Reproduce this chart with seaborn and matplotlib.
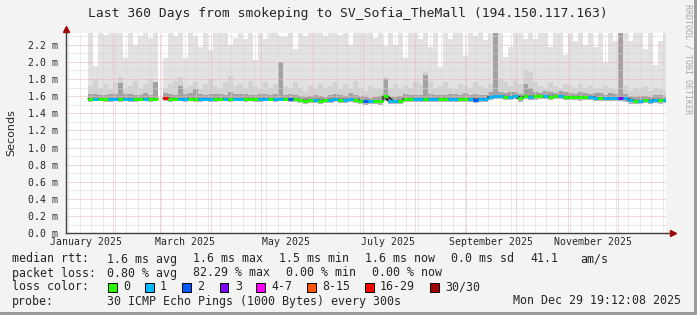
import numpy as np
import pandas as pd
import matplotlib
matplotlib.use("Agg")
import matplotlib.pyplot as plt
import matplotlib.dates as mdates
from matplotlib.patches import Rectangle
import seaborn as sns

nan = float("nan")

# ---------------- data ----------------
start_date = "2025-01-17"      # first consolidated sample
step_days = 3                  # width of one consolidated sample
end_time = "2025-12-29 19:12:08"
range_days = 360

# median RTT (ms) per sample
median_ms = [
    1.570, 1.570, 1.568, 1.570, 1.566, 1.570, 1.568, 1.572, 1.566, 1.568, 1.570, 1.572, 1.566, 1.568,
    nan,
    1.575, 1.572, 1.570, 1.568, 1.570, 1.572, 1.566, 1.570, 1.568, 1.565, 1.570, 1.572, 1.568, 1.566,
    1.570, 1.568, 1.572, 1.570, 1.566, 1.568, 1.570, 1.568, 1.565, 1.570, 1.568, 1.566, 1.562,
    1.552, 1.548, 1.550, 1.552, 1.548, 1.552,
    1.560, 1.562, 1.558, 1.560, 1.562, 1.558,
    1.542, 1.540, 1.538, 1.542, 1.540,
    1.600,
    1.545, 1.546, 1.548,
    1.566, 1.568, 1.570, 1.568, 1.566, 1.570, 1.568, 1.572, 1.568, 1.566, 1.570, 1.568, 1.570, 1.566,
    1.560, 1.568, 1.570,
    1.592, 1.596, 1.598, 1.595, 1.592, 1.598, 1.575, 1.596, 1.594, 1.598, 1.600, 1.596, 1.594, 1.598,
    1.596, 1.594,
    1.588, 1.590, 1.586, 1.588, 1.590,
    1.582, 1.580, 1.578, 1.582, 1.580, 1.578, 1.575,
    1.552, 1.548, 1.545, 1.550, 1.548, 1.558, 1.552, 1.550,
]

# packet-loss class per sample (index into loss_labels)
loss_idx = [
    0, 1, 0, 0, 1, 1, 0, 1, 1, 0, 0, 1, 0, 0,
    0,
    6, 0, 0, 1, 1, 0, 0, 1, 1, 1, 0, 0, 1, 0, 1, 1, 0, 0, 0, 1, 1, 0, 1, 1, 0, 2, 0,
    0, 0, 0, 1, 0, 0,
    1, 1, 0, 1, 1, 0,
    0, 2, 1, 0, 0,
    0,
    1, 1, 0,
    0, 0, 1, 1, 0, 1, 1, 0, 0, 1, 1, 0, 0, 1, 2, 1, 1,
    1, 1, 1, 0, 1, 1, 0, 0, 1, 0, 0, 1, 0, 0, 1, 0,
    0, 0, 0, 0, 1,
    1, 0, 1, 1, 1, 3, 1,
    1, 0, 1, 0, 1, 1, 0, 1,
]

# dense (dark) smoke height above the median (ms)
core_h = [
    0.05, 0.06, 0.05, 0.04, 0.06, 0.05, 0.18, 0.05, 0.06, 0.05, 0.04, 0.06, 0.05, 0.20,
    nan,
    0.06, 0.05, 0.04, 0.15, 0.05, 0.06, 0.12, 0.05, 0.04, 0.06, 0.05, 0.05, 0.04, 0.08,
    0.05, 0.06, 0.05, 0.04, 0.05, 0.06, 0.05, 0.04, 0.06, 0.43, 0.05, 0.06, 0.05,
    0.05, 0.04, 0.05, 0.06, 0.05, 0.04,
    0.05, 0.06, 0.05, 0.04, 0.07, 0.05,
    0.06, 0.05, 0.04, 0.05, 0.06,
    0.20,
    0.05, 0.04, 0.05,
    0.06, 0.05, 0.04, 0.05, 0.28, 0.06, 0.05, 0.04, 0.05, 0.06, 0.05, 0.04, 0.07, 0.05,
    0.06, 0.05, 0.04,
    0.06, 0.85, 0.05, 0.04, 0.06, 0.05, 0.05, 0.15, 0.10, 0.05, 0.04, 0.06, 0.05, 0.04,
    0.06, 0.05,
    0.05, 0.04, 0.06, 0.05, 0.04,
    0.05, 0.06, 0.04, 0.05, 0.05, 0.85, 0.05,
    0.05, 0.04, 0.06, 0.05, 0.04, 0.05, 0.06, 0.04,
]

# smoke depth below the median (ms)
lo_h = [
    0.035, 0.030, 0.030, 0.035, 0.030, 0.030, 0.035, 0.030, 0.030, 0.035, 0.030, 0.030, 0.035, 0.030,
    nan,
    0.030, 0.035, 0.030, 0.030, 0.035, 0.030, 0.030, 0.035, 0.030, 0.030, 0.035, 0.030, 0.030, 0.035,
    0.030, 0.030, 0.035, 0.030, 0.030, 0.035, 0.030, 0.030, 0.035, 0.030, 0.030, 0.035, 0.030,
    0.035, 0.040, 0.035, 0.035, 0.040, 0.035,
    0.040, 0.035, 0.035, 0.040, 0.035, 0.035,
    0.035, 0.040, 0.035, 0.035, 0.040,
    0.060,
    0.035, 0.035, 0.040,
    0.035, 0.035, 0.040, 0.035, 0.035, 0.040, 0.035, 0.035, 0.040, 0.035, 0.035, 0.040, 0.035,
    0.035, 0.040, 0.035, 0.035,
    0.040, 0.035, 0.035, 0.040, 0.035, 0.035, 0.040, 0.035, 0.035, 0.040, 0.035, 0.035, 0.040,
    0.035, 0.035, 0.040,
    0.035, 0.035, 0.040, 0.035, 0.035,
    0.040, 0.035, 0.035, 0.040, 0.035, 0.035, 0.040,
    0.040, 0.035, 0.040, 0.035, 0.040, 0.035, 0.040, 0.035,
]

# upper edge of the medium smoke (ms)
hi_ms = [
    1.72, 1.80, 1.70, 1.74, 1.68, 1.76, 1.82, 1.70, 1.72, 1.78, 1.68, 1.74, 1.80, 1.76,
    nan,
    1.70, 1.74, 1.78, 1.82, 1.70, 1.72, 1.76, 1.68, 1.74, 1.80, 1.72, 1.70, 1.76, 1.84,
    1.72, 1.74, 1.70, 1.78, 1.72, 1.68, 1.76, 1.70, 1.74, 2.00, 1.72, 1.70, 1.76,
    1.70, 1.66, 1.72, 1.68, 1.74, 1.70,
    1.72, 1.76, 1.68, 1.74, 1.70, 1.78,
    1.70, 1.66, 1.72, 1.68, 1.70,
    1.82,
    1.70, 1.74, 1.68,
    1.72, 1.70, 1.76, 1.74, 1.88, 1.78, 1.70, 1.72, 1.76, 1.70, 1.68, 1.74, 1.72, 1.70,
    1.76, 1.72, 1.70,
    1.74, 2.40, 1.80, 1.76, 1.72, 1.78, 1.74, 1.90, 1.88, 1.76, 1.72, 1.70, 1.76, 1.72,
    1.70, 1.74,
    1.72, 1.70, 1.74, 1.70, 1.72,
    1.70, 1.68, 1.72, 1.70, 1.68, 2.40, 1.72,
    1.66, 1.70, 1.68, 1.72, 1.66, 1.70, 1.68, 1.66,
]

# maximum ping (top of light smoke, ms)
max_ms = [
    2.40, 1.95, 2.40, 2.31, 2.40, 2.40, 2.40, 2.05, 2.40, 2.20, 2.30, 2.40, 2.28, 2.40,
    nan,
    2.04, 2.40, 2.30, 2.40, 2.04, 2.40, 2.30, 2.17, 2.40, 2.14, 2.40, 2.40, 2.40, 2.20,
    2.28, 2.40, 2.27, 2.40, 2.02, 2.40, 2.27, 2.40, 2.40, 2.30, 2.29, 2.40, 2.15,
    2.40, 2.30, 2.40, 2.40, 2.40, 2.30,
    2.40, 2.40, 2.31, 2.40, 2.20, 2.40,
    2.40, 2.40, 2.40, 2.28, 2.40,
    2.19,
    2.40, 2.20, 2.40,
    2.04, 2.40, 2.40, 2.27, 2.40, 2.17, 2.40, 1.94, 2.40, 2.27, 2.40, 2.40, 2.07, 2.40,
    2.30, 2.40, 2.25,
    2.40, 2.40, 2.40, 2.06, 2.17, 2.40, 2.40, 2.27, 2.40, 2.27, 2.40, 2.40, 2.17, 2.40,
    2.40, 2.08,
    2.40, 2.24, 2.40, 2.20, 2.40,
    2.17, 2.40, 2.00, 2.40, 2.24, 2.40, 2.40,
    2.24, 2.40, 2.40, 2.15, 2.40, 1.96, 2.24, 2.40,
]

loss_labels = ["0", "1", "2", "3", "4-7", "8-15", "16-29", "30/30"]
loss_colors = ["#26ff00", "#00b8ff", "#0059ff", "#7e00ff", "#ff00ff", "#ff5500", "#ff0000", "#a10000"]

y_ticks = [0.0, 0.2, 0.4, 0.6, 0.8, 1.0, 1.2, 1.4, 1.6, 1.8, 2.0, 2.2]
month_labels = ["January 2025", "March 2025", "May 2025", "July 2025", "September 2025", "November 2025"]
month_label_dates = ["2025-01-16", "2025-03-16", "2025-05-16", "2025-07-16", "2025-09-16", "2025-11-16"]

title = "Last 360 Days from smokeping to SV_Sofia_TheMall (194.150.117.163)"
rtt_items = ["1.6 ms avg", "1.6 ms max", "1.5 ms min", "1.6 ms now", "0.0 ms sd", "41.1", "am/s"]
loss_items = ["0.80 % avg", "82.29 % max", "0.00 % min", "0.00 % now"]
probe_text = "30 ICMP Echo Pings (1000 Bytes) every 300s"
stamp_text = "Mon Dec 29 19:12:08 2025"

# ---------------- layout ----------------
W, H = 697, 315
sns.set_style("white")
plt.rcParams["font.family"] = ["DejaVu Sans Mono", "DejaVu Sans"]
MONO = "DejaVu Sans Mono"

fig = plt.figure(figsize=(W / 100, H / 100), dpi=100, facecolor="#f3f3f3")
ax = fig.add_axes([66 / W, (H - 233.3) / H, 600 / W, 200 / H])
ax.set_facecolor("white")

n = len(median_ms)
for arr in (loss_idx, core_h, lo_h, hi_ms, max_ms):
    assert len(arr) == n, len(arr)

dates = pd.date_range(start_date, periods=n, freq=f"{step_days}D")
d0 = mdates.date2num(dates.to_pydatetime())
d1 = d0 + step_days
xs = np.column_stack([d0, d1]).ravel()

med = np.array(median_ms, float)
lo = med - np.array(lo_h, float)
core = med + np.array(core_h, float)
hi = np.array(hi_ms, float)
top = np.array(max_ms, float)


def st(v):
    return np.repeat(v, 2)


# smoke
ax.fill_between(xs, st(lo), st(top), color="#e2e2e2", lw=0, zorder=1.0)
ax.fill_between(xs, st(med), st(hi), color="#d2d2d2", lw=0, zorder=1.1)
ax.fill_between(xs, st(med), st(core), color="#a2a2a2", lw=0, zorder=1.2)
ax.fill_between(xs, st(lo), st(med), color="#b8b8b8", lw=0, zorder=1.2)

# limits
end = pd.Timestamp(end_time)
xstart = end - pd.Timedelta(days=range_days)
ax.set_xlim(mdates.date2num(xstart.to_pydatetime()), mdates.date2num(end.to_pydatetime()))
ax.set_ylim(0, 2.333)

# grid (dotted, drawn over smoke like RRDtool)
dot = (0, (1, 1))
gkw = dict(lw=0.72, ls=dot, snap=True)
MINOR_C = "#d6d6d6"
MAJOR_C = "#ebb4b4"
for d in pd.date_range("2025-01-05", "2025-12-31", freq="W-SUN"):
    if d.day != 1:
        ax.axvline(mdates.date2num(d.to_pydatetime()), color=MINOR_C, zorder=1.5, **gkw)
for d in pd.date_range("2025-02-01", "2025-12-31", freq="MS"):
    ax.axvline(mdates.date2num(d.to_pydatetime()), color=MAJOR_C, zorder=1.6, **gkw)
for i in range(1, 24):
    v = i * 0.1
    if i % 2:
        ax.axhline(v, color=MINOR_C, zorder=1.5, **gkw)
    else:
        ax.axhline(v, color=MAJOR_C, zorder=1.6, **gkw)

# median line: base (dark connectors) with seaborn, coloured by loss on top
seg = np.cumsum(np.isnan(st(med)))
df = pd.DataFrame({"x": xs, "y": st(med), "seg": seg}).dropna()
sns.lineplot(data=df, x="x", y="y", units="seg", estimator=None, color="#202020",
             lw=1.0, ax=ax, zorder=2.8, legend=False)
ok = ~np.isnan(med)
ax.hlines(med[ok], d0[ok], d1[ok], colors=[loss_colors[c] for c in np.array(loss_idx)[ok]],
          lw=2.2, zorder=3)

# axes styling
for s in ("top", "right"):
    ax.spines[s].set_visible(False)
for s in ("left", "bottom"):
    ax.spines[s].set_color("#404040")
    ax.spines[s].set_linewidth(1.0)
    ax.spines[s].set_zorder(4)
ax.plot([0, 0], [1, 1.02], transform=ax.transAxes, color="#404040", lw=1.0, clip_on=False)
ax.plot([1, 1.009], [0, 0], transform=ax.transAxes, color="#404040", lw=1.0, clip_on=False)
ax.plot([0], [1.022], marker="^", ms=4, color="#a10000", transform=ax.transAxes, clip_on=False)
ax.plot([1.011], [0], marker=">", ms=4, color="#a10000", transform=ax.transAxes, clip_on=False)

ax.set_yticks(y_ticks)
ax.set_yticklabels([f"{v:.1f} m" for v in y_ticks], family=MONO, fontsize=7.1)
ax.tick_params(axis="y", length=2, width=0.7, color="#909090", pad=4)
ax.set_xticks([mdates.date2num(pd.Timestamp(d).to_pydatetime()) for d in month_label_dates])
ax.set_xticklabels(month_labels, family=MONO, fontsize=7.1)
ax.tick_params(axis="x", length=0, pad=3)
ax.set_xlabel("")
ax.set_ylabel("")


def px(x, y):
    return x / W, 1 - y / H


fig.text(*px(11, 133), "Seconds", rotation=90, family="DejaVu Sans", fontsize=8,
         ha="center", va="center")
fig.text(*px(348, 14), title, family=MONO, fontsize=9.4, ha="center", va="center")
fig.text(*px(688, 59), "RRDTOOL / TOBI OETIKER", rotation=270, family=MONO, fontsize=6,
         color="#a8a8a8", ha="center", va="center")

LS = 8.4
y1, y2, y3, y4 = 259, 273, 287, 301
fig.text(*px(12, y1), "median rtt:", family=MONO, fontsize=LS, va="center")
for xx, t in zip([107, 193, 279, 365, 451, 530, 580], rtt_items):
    fig.text(*px(xx, y1), t, family=MONO, fontsize=LS, va="center")
fig.text(*px(12, y2), "packet loss:", family=MONO, fontsize=LS, va="center")
for xx, t in zip([107, 193, 286, 372], loss_items):
    fig.text(*px(xx, y2), t, family=MONO, fontsize=LS, va="center")
fig.text(*px(12, y3), "loss color:", family=MONO, fontsize=LS, va="center")
box_x = [108, 145, 182, 220, 256, 307, 365, 430]
for bx, col, lab in zip(box_x, loss_colors, loss_labels):
    fig.patches.append(Rectangle(px(bx, y3 + 4.5), 8.5 / W, 9 / H, transform=fig.transFigure,
                                 facecolor=col, edgecolor="black", lw=0.7))
    fig.text(*px(bx + 15, y3), lab, family=MONO, fontsize=LS, va="center")
fig.text(*px(12, y4), "probe:", family=MONO, fontsize=LS, va="center")
fig.text(*px(107, y4), probe_text, family=MONO, fontsize=LS, va="center")
fig.text(*px(681, y4), stamp_text, family=MONO, fontsize=LS, va="center", ha="right")

# 3D-ish frame (right / bottom shade)
fig.patches.append(Rectangle((694 / W, 0), 3 / W, 1, transform=fig.transFigure,
                             facecolor="#9c9c9c", edgecolor="none"))
fig.patches.append(Rectangle((0, 0), 1, 3 / H, transform=fig.transFigure,
                             facecolor="#9c9c9c", edgecolor="none"))

fig.savefig("out.png", dpi=100, facecolor=fig.get_facecolor())
